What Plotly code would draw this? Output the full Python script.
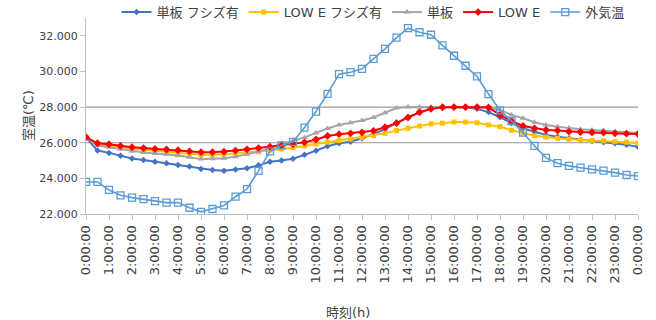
import plotly.graph_objects as go

# Half-hourly time axis (hours from midnight) and hour tick labels
hours = [0, 0.5, 1, 1.5, 2, 2.5, 3, 3.5, 4, 4.5, 5, 5.5, 6, 6.5, 7, 7.5, 8, 8.5,
         9, 9.5, 10, 10.5, 11, 11.5, 12, 12.5, 13, 13.5, 14, 14.5, 15, 15.5, 16,
         16.5, 17, 17.5, 18, 18.5, 19, 19.5, 20, 20.5, 21, 21.5, 22, 22.5, 23,
         23.5, 24]
tick_hours = list(range(0, 25))
tick_labels = ["0:00:00", "1:00:00", "2:00:00", "3:00:00", "4:00:00", "5:00:00",
               "6:00:00", "7:00:00", "8:00:00", "9:00:00", "10:00:00", "11:00:00",
               "12:00:00", "13:00:00", "14:00:00", "15:00:00", "16:00:00",
               "17:00:00", "18:00:00", "19:00:00", "20:00:00", "21:00:00",
               "22:00:00", "23:00:00", "0:00:00"]

# Room temperature (°C) per glazing type, and outdoor temperature
tanpan_film = [26.30, 25.56, 25.43, 25.27, 25.12, 25.03, 24.93, 24.85, 24.75, 24.66,
               24.53, 24.47, 24.43, 24.50, 24.57, 24.73, 24.93, 25.00, 25.10, 25.32,
               25.55, 25.80, 25.97, 26.06, 26.25, 26.48, 26.76, 27.12, 27.45, 27.69,
               27.90, 28.00, 28.00, 27.98, 27.90, 27.72, 27.43, 27.10, 26.81, 26.62,
               26.44, 26.34, 26.25, 26.16, 26.10, 26.03, 25.97, 25.88, 25.78]
lowe_film = [26.30, 25.93, 25.84, 25.75, 25.65, 25.60, 25.55, 25.50, 25.46, 25.40,
             25.32, 25.32, 25.35, 25.40, 25.46, 25.50, 25.58, 25.64, 25.72, 25.82,
             25.93, 26.03, 26.12, 26.20, 26.29, 26.40, 26.53, 26.68, 26.81, 26.94,
             27.06, 27.10, 27.16, 27.16, 27.12, 27.00, 26.90, 26.70, 26.53, 26.40,
             26.31, 26.25, 26.20, 26.16, 26.12, 26.10, 26.06, 26.03, 25.98]
tanpan = [26.30, 25.84, 25.74, 25.64, 25.52, 25.45, 25.40, 25.35, 25.28, 25.18,
          25.08, 25.10, 25.13, 25.22, 25.35, 25.50, 25.70, 25.95, 26.10, 26.30,
          26.55, 26.80, 27.00, 27.12, 27.25, 27.42, 27.68, 27.95, 28.00, 28.00,
          28.00, 28.00, 28.00, 28.00, 28.00, 27.98, 27.84, 27.56, 27.37, 27.15,
          27.00, 26.90, 26.82, 26.76, 26.72, 26.68, 26.63, 26.58, 26.54]
lowe = [26.31, 25.97, 25.92, 25.82, 25.75, 25.70, 25.65, 25.62, 25.58, 25.52,
        25.47, 25.47, 25.50, 25.56, 25.63, 25.70, 25.78, 25.84, 25.92, 26.02,
        26.18, 26.38, 26.48, 26.53, 26.58, 26.67, 26.87, 27.10, 27.41, 27.71,
        27.90, 27.99, 28.00, 28.00, 28.00, 27.98, 27.56, 27.22, 26.94, 26.81,
        26.72, 26.68, 26.62, 26.60, 26.58, 26.57, 26.53, 26.51, 26.49]
outdoor = [23.80, 23.80, 23.35, 23.05, 22.92, 22.83, 22.72, 22.64, 22.64, 22.35,
           22.12, 22.28, 22.48, 22.97, 23.40, 24.42, 25.52, 25.85, 26.05, 26.85,
           27.75, 28.74, 29.85, 29.96, 30.15, 30.71, 31.27, 31.90, 32.43, 32.20,
           32.06, 31.46, 30.88, 30.32, 29.72, 28.73, 27.82, 27.22, 26.57, 25.82,
           25.15, 24.85, 24.70, 24.60, 24.51, 24.43, 24.32, 24.19, 24.13]

y_ticks = [22, 24, 26, 28, 30, 32]
grid_levels = [26, 28]

FONT = "DejaVu Sans, Noto Sans CJK JP, sans-serif"
TEXT = "#404040"

series = [
    ("単板 フシズ有", tanpan_film, "#4472C4", dict(symbol="diamond", size=5)),
    ("LOW E フシズ有", lowe_film, "#FFC000", dict(symbol="square", size=5)),
    ("単板", tanpan, "#A5A5A5", dict(symbol="triangle-up", size=6)),
    ("LOW E", lowe, "#FF0000", dict(symbol="diamond", size=6)),
    ("外気温", outdoor, "#5B9BD5",
     dict(symbol="square-open", size=7, line=dict(width=1.3))),
]

fig = go.Figure()
for name, vals, color, marker in series:
    fig.add_trace(go.Scatter(
        x=hours, y=vals, name=name, mode="lines+markers",
        line=dict(color=color, width=2 if name != "外気温" else 1.6),
        marker=dict(color=color, **marker),
    ))

for lvl in grid_levels:
    fig.add_shape(type="line", xref="paper", x0=0, x1=1, yref="y", y0=lvl, y1=lvl,
                  line=dict(color="#9A9A9A", width=1.2), layer="below")

fig.update_layout(
    width=656, height=320,
    margin=dict(l=86, r=18, t=18, b=106, autoexpand=False),
    paper_bgcolor="white", plot_bgcolor="white",
    font=dict(family=FONT, size=11, color=TEXT),
    showlegend=True,
    legend=dict(orientation="h", x=0.52, xanchor="center", y=1.03,
                yanchor="middle", font=dict(size=13, color=TEXT),
                itemwidth=30, tracegroupgap=0, bgcolor="rgba(0,0,0,0)"),
    xaxis=dict(range=[0, 24], tickmode="array", tickvals=tick_hours,
               ticktext=tick_labels, tickangle=-90, ticks="outside",
               ticklen=5, tickcolor="#BFBFBF", showgrid=False, zeroline=False,
               showline=True, linecolor="#BFBFBF", linewidth=1,
               tickfont=dict(size=13, color=TEXT)),
    yaxis=dict(range=[22, 33], tickmode="array", tickvals=y_ticks,
               ticktext=[f"{v:.3f}" for v in y_ticks], ticks="outside",
               ticklen=5, tickcolor="#BFBFBF", showgrid=False, zeroline=False,
               showline=True, linecolor="#BFBFBF", linewidth=1,
               tickfont=dict(size=11, color=TEXT)),
    annotations=[
        dict(text="時刻(h)", xref="paper", yref="paper", x=0.475, y=-0.5,
             showarrow=False, font=dict(size=13, color=TEXT),
             xanchor="center", yanchor="middle"),
        dict(text="室温(℃)", xref="paper", yref="paper", x=-0.105, y=0.5,
             textangle=-90, showarrow=False, font=dict(size=13, color=TEXT),
             xanchor="center", yanchor="middle"),
    ],
)

fig.write_html("out.html")
